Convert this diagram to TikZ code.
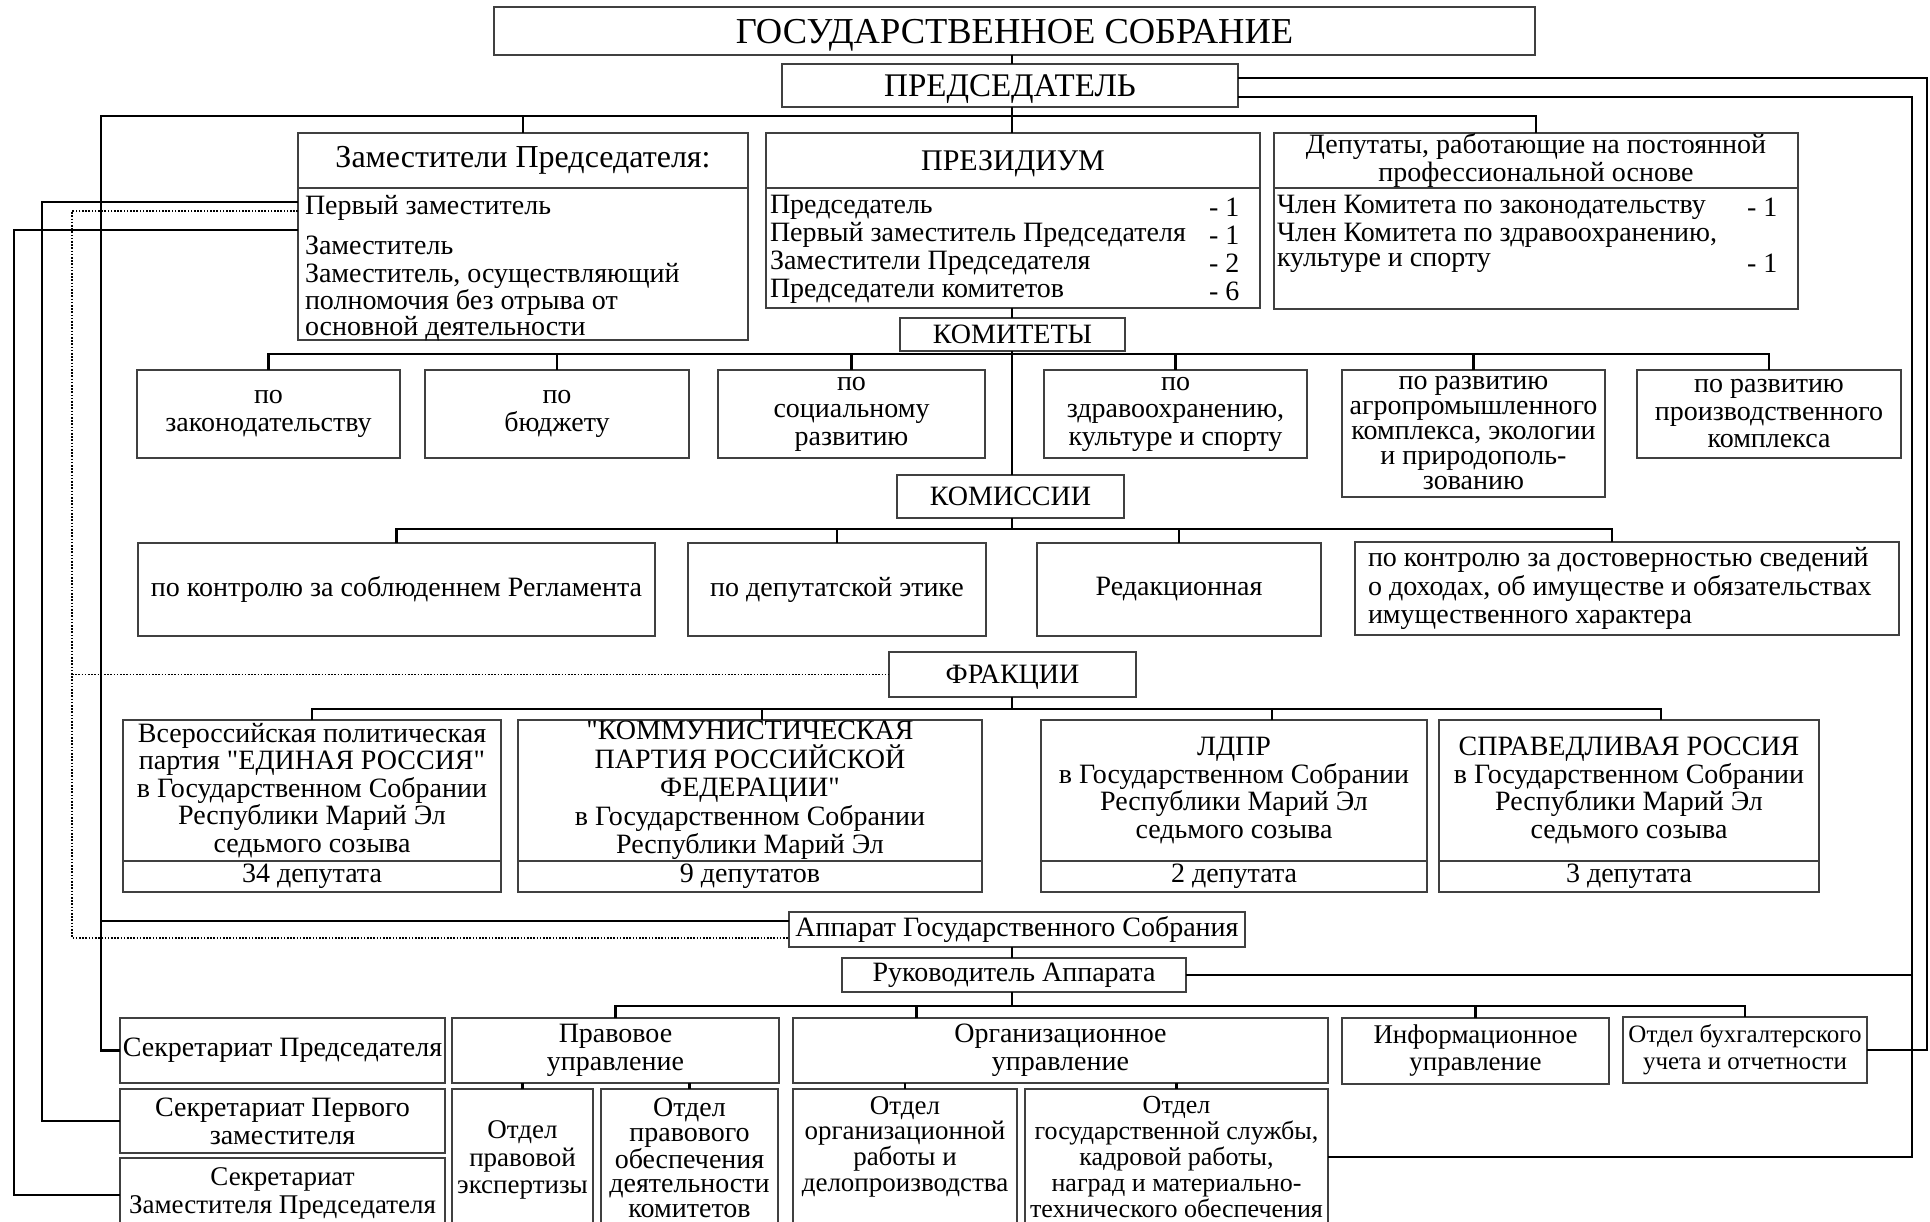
\documentclass[tikz,border=0pt]{standalone}
\usepackage{fontspec}
\setmainfont{Liberation Serif}[Ligatures=TeXOff]
\newcommand\myfs[2]{\fontsize{#1pt}{#2pt}\selectfont}
% \mybox[opts]{name}{x1}{y1}{x2}{y2}{text}
\newcommand\mybox[7][]{%
  \pgfmathsetmacro\mycx{(#3+#5)/2}%
  \pgfmathsetmacro\mycy{(#4+#6)/2}%
  \pgfmathsetmacro\myww{#5-#3}%
  \pgfmathsetmacro\myhh{#6-#4}%
  \node[box,minimum width=\myww pt,minimum height=\myhh pt,#1] (#2) at (\mycx,\mycy) {#7};}
\begin{document}
\begin{tikzpicture}[x=1pt,y=-1pt,
  box/.style={draw=black!75, line width=1.4pt, fill=white, inner sep=0pt, outer sep=0pt, align=center, font=\myfs{28}{28}},
  txt/.style={inner sep=0pt, outer sep=0pt, font=\myfs{28}{28}},
  con/.style={line width=2.6pt, black},
  dotl/.style={line width=1.6pt, black, dash pattern=on 1.6pt off 1.6pt},
]
\useasboundingbox[fill=white] (0,0) rectangle (1930,1222);
\clip (0,0) rectangle (1930,1222);

% ---------- nodes ----------
\mybox[font=\myfs{36.5}{36.5}, text depth=0pt]{title}{494}{7}{1535}{55}{ГОСУДАРСТВЕННОЕ СОБРАНИЕ}
\mybox[font=\myfs{33}{33}, text depth=0pt]{pred}{782}{64}{1238}{107}{ПРЕДСЕДАТЕЛЬ}

\mybox[font=\myfs{32}{32}]{zamh}{298}{133}{748}{188}{Заместители Председателя:}
\mybox{zamb}{298}{188}{748}{340}{}
\node[txt, anchor=west] (z1) at (305,208) {Первый заместитель};
\node[txt, anchor=west] (z2) at (305,245) {Заместитель};
\node[txt, anchor=west, align=left, font=\myfs{28}{22.5}] (z3) at (305,302.5) {Заместитель, осуществляющий\\полномочия без отрыва от\\основной деятельности};

\mybox[font=\myfs{30}{30}, text depth=0pt]{prezh}{766}{133}{1260}{188}{ПРЕЗИДИУМ}
\mybox{prezb}{766}{188}{1260}{308}{}
\node[txt, anchor=west] (p1) at (770,207) {Председатель};
\node[txt, anchor=west] (p1n) at (1209,207) {- 1};
\node[txt, anchor=west] (p2) at (770,235) {Первый заместитель Председателя};
\node[txt, anchor=west] (p2n) at (1209,235) {- 1};
\node[txt, anchor=west] (p3) at (770,263) {Заместители Председателя};
\node[txt, anchor=west] (p3n) at (1209,263) {- 2};
\node[txt, anchor=west] (p4) at (770,291) {Председатели комитетов};
\node[txt, anchor=west] (p4n) at (1209,291) {- 6};

\mybox{deph}{1274}{133}{1798}{188}{Депутаты, работающие на постоянной\\профессиональной основе}
\mybox{depb}{1274}{188}{1798}{309}{}
\node[txt, anchor=west] (d1) at (1277,207) {Член Комитета по законодательству};
\node[txt, anchor=west] (d1n) at (1747,207) {- 1};
\node[txt, anchor=west] (d2) at (1277,235) {Член Комитета по здравоохранению,};
\node[txt, anchor=west] (d3) at (1277,263) {культуре и спорту};
\node[txt, anchor=west] (d3n) at (1747,263) {- 1};

\mybox{kom}{900}{318}{1125}{351}{КОМИТЕТЫ}
\mybox{k1}{137}{370}{400}{458}{по\\законодательству}
\mybox{k2}{425}{370}{689}{458}{по\\бюджету}
\mybox[font=\myfs{28}{27.5}]{k3}{718}{370}{985}{458}{по\\социальному\\развитию}
\mybox[font=\myfs{28}{27.5}]{k4}{1044}{370}{1307}{458}{по\\здравоохранению,\\культуре и спорту}
\mybox[font=\myfs{28}{25}]{k5}{1342}{370}{1605}{497}{по развитию\\агропромышленного\\комплекса, экологии\\и природополь-\\зованию}
\mybox[font=\myfs{28}{27.5}]{k6}{1637}{370}{1901}{458}{по развитию\\производственного\\комплекса}

\mybox{koms}{897}{475}{1124}{518}{КОМИССИИ}
\mybox{c1}{138}{543}{655}{636}{по контролю за соблюденнем Регламента}
\mybox{c2}{688}{543}{986}{636}{по депутатской этике}
\mybox{c3}{1037}{543}{1321}{636}{Редакционная}
\mybox{c4}{1355}{542}{1899}{635}{}
\node[txt, anchor=west, align=left, font=\myfs{28}{28.5}] (c4t) at (1368,588.5) {по контролю за достоверностью сведений\\о доходах, об имуществе и обязательствах\\имущественного характера};

\mybox[text depth=0pt]{frak}{889}{652}{1136}{697}{ФРАКЦИИ}
\mybox[font=\myfs{28}{27.5}]{f1}{123}{720}{501}{861}{Всероссийская политическая\\партия "ЕДИНАЯ РОССИЯ"\\в Государственном Собрании\\Республики Марий Эл\\седьмого созыва}
\mybox{f1n}{123}{861}{501}{892}{34 депутата}
\mybox[font=\myfs{28}{28.5}]{f2}{518}{720}{982}{861}{"КОММУНИСТИЧЕСКАЯ\\ПАРТИЯ РОССИЙСКОЙ\\ФЕДЕРАЦИИ"\\в Государственном Собрании\\Республики Марий Эл}
\mybox{f2n}{518}{861}{982}{892}{9 депутатов}
\mybox[font=\myfs{28}{27.7}]{f3}{1041}{720}{1427}{861}{ЛДПР\\в Государственном Собрании\\Республики Марий Эл\\седьмого созыва}
\mybox{f3n}{1041}{861}{1427}{892}{2 депутата}
\mybox[font=\myfs{28}{27.7}]{f4}{1439}{720}{1819}{861}{СПРАВЕДЛИВАЯ РОССИЯ\\в Государственном Собрании\\Республики Марий Эл\\седьмого созыва}
\mybox{f4n}{1439}{861}{1819}{892}{3 депутата}

\mybox{app}{789}{912}{1245}{947}{Аппарат Государственного Собрания}
\mybox{ruk}{842}{958}{1186}{992}{Руководитель Аппарата}

\mybox{sekpred}{120}{1018}{445}{1083}{Секретариат Председателя}
\mybox{pravo}{452}{1018}{779}{1083}{Правовое\\управление}
\mybox{org}{793}{1018}{1328}{1083}{Организационное\\управление}
\mybox[font=\myfs{27}{27}]{inf}{1342}{1018}{1609}{1084}{Информационное\\управление}
\mybox[font=\myfs{25}{27}]{buh}{1623}{1017}{1867}{1083}{Отдел бухгалтерского\\учета и отчетности}

\mybox{sekperv}{120}{1089}{445}{1153}{Секретариат Первого\\заместителя}
\mybox{sekzam}{120}{1158}{445}{1240}{}
\node[txt, align=center, font=\myfs{27}{28}] (sekzamt) at (282.5,1193) {Секретариат\\Заместителя Председателя};
\mybox{otdexp}{452}{1089}{593}{1240}{}
\node[txt, align=center, font=\myfs{27}{27.5}] (otdexpt) at (522.5,1160) {Отдел\\правовой\\экспертизы};
\mybox{otdobes}{601}{1089}{778}{1240}{}
\node[txt, align=center, font=\myfs{28}{24.5}] (otdobest) at (689.5,1158) {Отдел\\правового\\обеспечения\\деятельности\\комитетов};
\mybox{otdorg}{793}{1089}{1017}{1240}{}
\node[txt, align=center, font=\myfs{27}{25.7}] (otdorgt) at (905,1146.5) {Отдел\\организационной\\работы и\\делопроизводства};
\mybox{otdgos}{1025}{1089}{1328}{1240}{}
\node[txt, align=center, font=\myfs{26}{25.8}] (otdgost) at (1176.5,1157) {Отдел\\государственной службы,\\кадровой работы,\\наград и материально-\\технического обеспечения};

% ---------- connectors ----------
\coordinate (ax) at (1012,0);
\draw[con] (title.south -| ax) -- (pred.north -| ax);
\draw[con] (pred.south -| ax) -- (prezh.north -| ax);
\coordinate (L1) at (101,116);
\draw[con] (sekpred.west) -| (L1) -| (deph.north);
\draw[con] (zamh.north) -- (zamh.north |- L1);
\draw[con] ([yshift=8.5pt]app.west) -- ([yshift=8.5pt]app.west -| L1);

\coordinate (L2) at (42,202);
\coordinate (L3) at (14,230);
\coordinate (L4) at (72,211);
\coordinate (sz) at (0,1195);
\draw[con] (zamb.west |- L2) -- (L2) |- (sekperv.west);
\draw[con] (zamb.west |- L3) -- (L3) |- (sekzam.west |- sz);
\draw[dotl] (zamb.west |- L4) -- (L4) |- ([yshift=-8.5pt]app.west);
\draw[dotl] (frak.west -| L4) -- (frak.west);

\coordinate (R1) at (1927,78);
\coordinate (R2) at (1912,97);
\coordinate (R3) at (1912,1157);
\draw[con] (pred.east |- R1) -- (R1) |- (buh.east);
\draw[con] (pred.east |- R2) -- (R2) -- (R3) -- (otdgos.east |- R3);
\draw[con] (ruk.east) -- (ruk.east -| R2);

\draw[con] (prezb.south -| ax) -- (kom.north -| ax);
\draw[con] (kom.south -| ax) -- (koms.north -| ax);
\coordinate (B2) at (0,354);
\draw[con] (k1.north) -- (k1.north |- B2) -- (k6.north |- B2) -- (k6.north);
\foreach \n in {k2,k3,k4,k5} \draw[con] (\n.north) -- (\n.north |- B2);

\coordinate (B3) at (0,529);
\draw[con] (koms.south -| ax) -- (B3 -| ax);
\draw[con] (c1.north) -- (c1.north |- B3) -- ([xshift=-15pt]c4.north |- B3) -- ([xshift=-15pt]c4.north);
\foreach \n in {c2,c3} \draw[con] (\n.north) -- (\n.north |- B3);

\coordinate (B4) at (0,709);
\draw[con] (frak.south -| ax) -- (B4 -| ax);
\draw[con] (f1.north) -- (f1.north |- B4) -- ([xshift=32pt]f4.north |- B4) -- ([xshift=32pt]f4.north);
\draw[con] ([xshift=12pt]f2.north) -- ([xshift=12pt]f2.north |- B4);
\draw[con] ([xshift=38pt]f3.north) -- ([xshift=38pt]f3.north |- B4);

\draw[con] (app.south -| ax) -- (ruk.north -| ax);
\coordinate (B5) at (0,1006);
\draw[con] (ruk.south -| ax) -- (B5 -| ax);
\draw[con] (pravo.north) -- (pravo.north |- B5) -- (buh.north |- B5) -- (buh.north);
\draw[con] ([xshift=-144pt]org.north) -- ([xshift=-144pt]org.north |- B5);
\draw[con] (inf.north) -- (inf.north |- B5);
\draw[con] (otdexp.north) -- (otdexp.north |- pravo.south);
\draw[con] (otdobes.north) -- (otdobes.north |- pravo.south);
\draw[con] (otdorg.north) -- (otdorg.north |- org.south);
\draw[con] (otdgos.north) -- (otdgos.north |- org.south);
\end{tikzpicture}
\end{document}
